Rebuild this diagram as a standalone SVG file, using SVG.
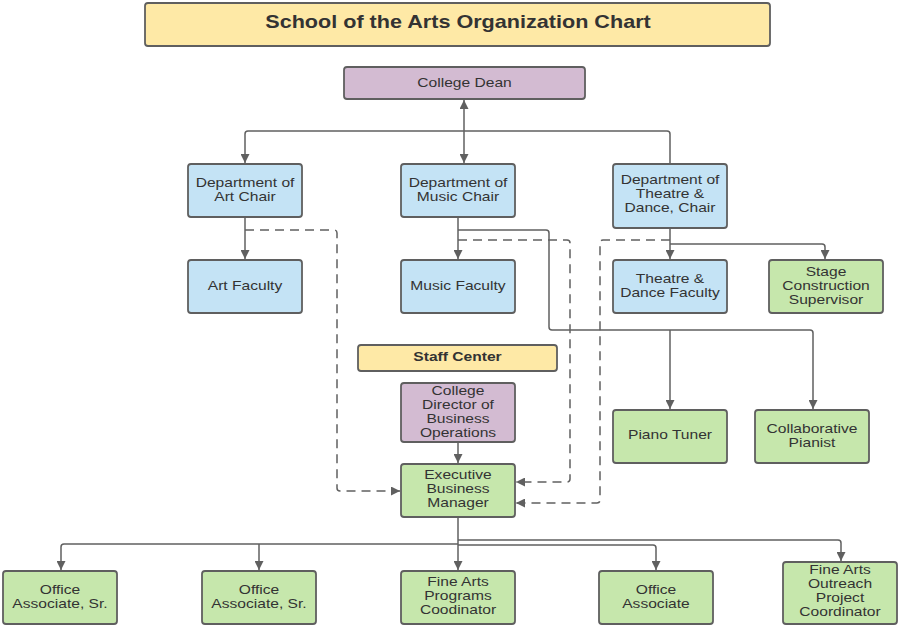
<svg xmlns="http://www.w3.org/2000/svg" width="898" height="626" viewBox="0 0 898 626">
<style>
.box{stroke:#5f5f5f;stroke-width:1.8}
.yellow{fill:#fee9a6}
.blue{fill:#c4e3f5}
.green{fill:#c6e7ac}
.purple{fill:#d3bbd2}
text{font-family:"Liberation Sans",Arial,sans-serif;font-size:13px;fill:#333;text-anchor:middle}
.bold{font-weight:bold}
.title{font-size:18px;font-weight:bold}
.c{fill:none;stroke:#606060;stroke-width:1.5}
.d{stroke-dasharray:9 6}
</style>
<defs>
<marker id="ah" viewBox="0 0 10 10" refX="10" refY="5" markerWidth="9" markerHeight="9" orient="auto-start-reverse" markerUnits="userSpaceOnUse">
<path d="M0,0 L10,5 L0,10 z" fill="#606060"/>
</marker>
</defs>
<g id="connectors">
<path class="c" d="M464,131 H248 Q245,131 245,134 V163" marker-end="url(#ah)"/>
<path class="c" d="M464,131 H667 Q670,131 670,134 V164"/>
<path class="c" d="M464,100 V163" marker-start="url(#ah)" marker-end="url(#ah)"/>
<path class="c" d="M245,217 V259" marker-end="url(#ah)"/>
<path class="c d" d="M245,230 H334 Q337,230 337,233 V488 Q337,491 340,491 H400" marker-end="url(#ah)"/>
<path class="c" d="M458,217 V259" marker-end="url(#ah)"/>
<path class="c" d="M458,230 H546 Q549,230 549,233 V327 Q549,330 552,330 H810 Q813,330 813,333 V409" marker-end="url(#ah)"/>
<path class="c" d="M670,330 V409" marker-end="url(#ah)"/>
<path class="c d" d="M458,240 H567 Q570,240 570,243 V479 Q570,482 567,482 H516" marker-end="url(#ah)"/>
<path class="c" d="M670,228 V259" marker-end="url(#ah)"/>
<path class="c" d="M670,244 H822 Q825,244 825,247 V259" marker-end="url(#ah)"/>
<path class="c d" d="M670,240 H603 Q600,240 600,243 V500 Q600,503 597,503 H516" marker-end="url(#ah)"/>
<path class="c" d="M458,442 V463" marker-end="url(#ah)"/>
<path class="c" d="M458,517 V570" marker-end="url(#ah)"/>
<path class="c" d="M458,544 H64 Q61,544 61,547 V570" marker-end="url(#ah)"/>
<path class="c" d="M259,544 V570" marker-end="url(#ah)"/>
<path class="c" d="M458,545 H653 Q656,545 656,548 V570" marker-end="url(#ah)"/>
<path class="c" d="M458,540 H838 Q841,540 841,543 V561" marker-end="url(#ah)"/>
</g>
<g id="title">
<rect class="box yellow" x="145" y="3" width="625" height="43" rx="3"/>
<text class="title" transform="translate(458,0) scale(1.2,1)" x="0" y="28.5">School of the Arts Organization Chart</text>
</g>
<g id="dean">
<rect class="box purple" x="344" y="67" width="241" height="32" rx="3"/>
<text transform="translate(464.5,0) scale(1.2,1)" x="0" y="87.5">College Dean</text>
</g>
<g id="art-chair">
<rect class="box blue" x="188" y="164" width="114" height="53" rx="3"/>
<text transform="translate(245,0) scale(1.2,1)"><tspan x="0" y="187.5">Department of</tspan><tspan x="0" y="201.5">Art Chair</tspan></text>
</g>
<g id="music-chair">
<rect class="box blue" x="401" y="164" width="114" height="53" rx="3"/>
<text transform="translate(458,0) scale(1.2,1)"><tspan x="0" y="187.5">Department of</tspan><tspan x="0" y="201.5">Music Chair</tspan></text>
</g>
<g id="theatre-chair">
<rect class="box blue" x="613" y="164" width="114" height="64" rx="3"/>
<text transform="translate(670,0) scale(1.2,1)"><tspan x="0" y="184.5">Department of</tspan><tspan x="0" y="198.5">Theatre &amp;</tspan><tspan x="0" y="212.5">Dance, Chair</tspan></text>
</g>
<g id="art-faculty">
<rect class="box blue" x="188" y="260" width="114" height="53" rx="3"/>
<text transform="translate(245,0) scale(1.2,1)" x="0" y="290.5">Art Faculty</text>
</g>
<g id="music-faculty">
<rect class="box blue" x="401" y="260" width="114" height="53" rx="3"/>
<text transform="translate(458,0) scale(1.2,1)" x="0" y="290.5">Music Faculty</text>
</g>
<g id="theatre-faculty">
<rect class="box blue" x="613" y="260" width="114" height="53" rx="3"/>
<text transform="translate(670,0) scale(1.2,1)"><tspan x="0" y="283.5">Theatre &amp;</tspan><tspan x="0" y="297.5">Dance Faculty</tspan></text>
</g>
<g id="stage-supervisor">
<rect class="box green" x="769" y="260" width="114" height="53" rx="3"/>
<text transform="translate(826,0) scale(1.2,1)"><tspan x="0" y="276.5">Stage</tspan><tspan x="0" y="290.5">Construction</tspan><tspan x="0" y="304.5">Supervisor</tspan></text>
</g>
<g id="staff-center">
<rect class="box yellow" x="358" y="345" width="199" height="26" rx="3"/>
<text class="bold" transform="translate(457.5,0) scale(1.2,1)" x="0" y="361.5">Staff Center</text>
</g>
<g id="director">
<rect class="box purple" x="401" y="383" width="114" height="59" rx="3"/>
<text transform="translate(458,0) scale(1.2,1)"><tspan x="0" y="395.5">College</tspan><tspan x="0" y="409.5">Director of</tspan><tspan x="0" y="423.5">Business</tspan><tspan x="0" y="437.5">Operations</tspan></text>
</g>
<g id="piano-tuner">
<rect class="box green" x="613" y="410" width="114" height="53" rx="3"/>
<text transform="translate(670,0) scale(1.2,1)" x="0" y="439.5">Piano Tuner</text>
</g>
<g id="pianist">
<rect class="box green" x="755" y="410" width="114" height="53" rx="3"/>
<text transform="translate(812,0) scale(1.2,1)"><tspan x="0" y="433.5">Collaborative</tspan><tspan x="0" y="447.5">Pianist</tspan></text>
</g>
<g id="exec-manager">
<rect class="box green" x="401" y="464" width="114" height="53" rx="3"/>
<text transform="translate(458,0) scale(1.2,1)"><tspan x="0" y="479.5">Executive</tspan><tspan x="0" y="493.5">Business</tspan><tspan x="0" y="507.5">Manager</tspan></text>
</g>
<g id="office-sr-1">
<rect class="box green" x="3" y="571" width="114" height="53" rx="3"/>
<text transform="translate(60,0) scale(1.2,1)"><tspan x="0" y="594.5">Office</tspan><tspan x="0" y="608.5">Associate, Sr.</tspan></text>
</g>
<g id="office-sr-2">
<rect class="box green" x="202" y="571" width="114" height="53" rx="3"/>
<text transform="translate(259,0) scale(1.2,1)"><tspan x="0" y="594.5">Office</tspan><tspan x="0" y="608.5">Associate, Sr.</tspan></text>
</g>
<g id="programs-coordinator">
<rect class="box green" x="401" y="571" width="114" height="53" rx="3"/>
<text transform="translate(458,0) scale(1.2,1)"><tspan x="0" y="586.5">Fine Arts</tspan><tspan x="0" y="600.5">Programs</tspan><tspan x="0" y="614.5">Coodinator</tspan></text>
</g>
<g id="office-associate">
<rect class="box green" x="599" y="571" width="114" height="53" rx="3"/>
<text transform="translate(656,0) scale(1.2,1)"><tspan x="0" y="594.5">Office</tspan><tspan x="0" y="608.5">Associate</tspan></text>
</g>
<g id="outreach-coordinator">
<rect class="box green" x="783" y="562" width="114" height="62" rx="3"/>
<text transform="translate(840,0) scale(1.2,1)"><tspan x="0" y="574.5">Fine Arts</tspan><tspan x="0" y="588.5">Outreach</tspan><tspan x="0" y="602.5">Project</tspan><tspan x="0" y="616.5">Coordinator</tspan></text>
</g>
</svg>
